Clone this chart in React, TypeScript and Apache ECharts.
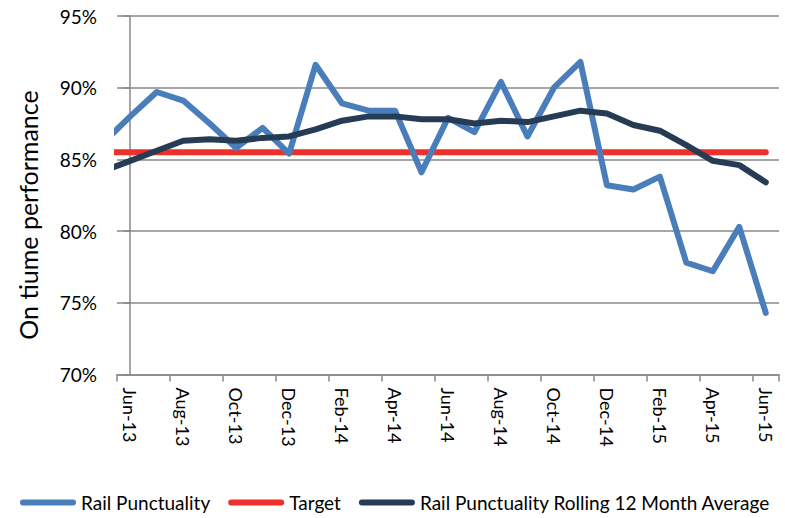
import React, { useEffect, useRef } from "react";
import * as echarts from "echarts";

// First entry (May-13) lies just outside the plot and is clipped at the left edge.
const months = [
  "May-13", "Jun-13", "Jul-13", "Aug-13", "Sep-13", "Oct-13", "Nov-13", "Dec-13",
  "Jan-14", "Feb-14", "Mar-14", "Apr-14", "May-14", "Jun-14", "Jul-14", "Aug-14",
  "Sep-14", "Oct-14", "Nov-14", "Dec-14", "Jan-15", "Feb-15", "Mar-15", "Apr-15",
  "May-15", "Jun-15",
];
const railPunctuality = [
  86.2, 88.0, 89.7, 89.1, 87.5, 85.8, 87.2, 85.4, 91.6, 88.9, 88.4, 88.4, 84.1,
  87.9, 86.9, 90.4, 86.6, 90.0, 91.8, 83.2, 82.9, 83.8, 77.8, 77.2, 80.3, 74.3,
];
const target = [
  85.5, 85.5, 85.5, 85.5, 85.5, 85.5, 85.5, 85.5, 85.5, 85.5, 85.5, 85.5, 85.5,
  85.5, 85.5, 85.5, 85.5, 85.5, 85.5, 85.5, 85.5, 85.5, 85.5, 85.5, 85.5, 85.5,
];
const rollingAverage = [
  84.2, 84.9, 85.6, 86.3, 86.4, 86.3, 86.5, 86.6, 87.1, 87.7, 88.0, 88.0, 87.8,
  87.8, 87.5, 87.7, 87.6, 88.0, 88.4, 88.2, 87.4, 87.0, 86.0, 84.9, 84.6, 83.4,
];
const yTicks = [70, 75, 80, 85, 90, 95];

const FONT = "Lato";
const GRID_COLOR = "#888888";
const PILL = "path://M3 0H53A3 3 0 0 1 53 6H3A3 3 0 0 1 3 0Z";

const toPoints = (vals: number[]) => vals.map((v, i) => [i - 1, v]);

export default function App() {
  const ref = useRef<HTMLDivElement>(null);
  useEffect(() => {
    if (!ref.current) return;
    const chart = echarts.init(ref.current, null, { renderer: "svg" });
    const categories = months.slice(1);
    const lineSeries = (name: string, vals: number[], color: string, z: number) => ({
      name,
      type: "line",
      xAxisIndex: 1,
      yAxisIndex: 0,
      data: toPoints(vals),
      symbol: "none",
      showSymbol: false,
      clip: true,
      z,
      lineStyle: { color, width: 6, cap: "round", join: "round" },
      itemStyle: { color },
    });
    chart.setOption({
      animation: false,
      grid: { left: 117, right: 6, top: 16, bottom: 143.5, containLabel: false },
      graphic: [
        {
          type: "text",
          x: 28,
          y: 215,
          rotation: Math.PI / 2,
          style: {
            text: "On tiume performance",
            font: `25px ${FONT}`,
            fill: "#000",
            textAlign: "center",
            textVerticalAlign: "middle",
          },
        },
      ],
      legend: {
        left: 15,
        right: 0,
        top: 488,
        itemWidth: 56,
        itemHeight: 6,
        itemGap: 18,
        icon: PILL,
        textStyle: { fontFamily: FONT, fontSize: 19, color: "#000" },
        data: [
          { name: "Rail Punctuality", icon: PILL },
          { name: "Target", icon: PILL },
          { name: "Rail Punctuality Rolling 12 Month Average", icon: PILL },
        ],
      },
      xAxis: [
        {
          type: "category",
          data: categories,
          boundaryGap: true,
          axisLine: { show: true, lineStyle: { color: GRID_COLOR, width: 1.5 } },
          axisTick: { show: true, interval: 1, length: 7, lineStyle: { color: GRID_COLOR, width: 1.5 } },
          axisLabel: {
            interval: 1,
            rotate: -90,
            margin: 13,
            fontFamily: FONT,
            fontSize: 18,
            color: "#000",
          },
          splitLine: { show: false },
        },
        {
          type: "value",
          min: -0.5,
          max: 24.5,
          show: false,
          splitLine: { show: false },
        },
      ],
      yAxis: {
        type: "value",
        min: yTicks[0],
        max: yTicks[yTicks.length - 1],
        interval: 5,
        axisLine: { show: true, lineStyle: { color: GRID_COLOR, width: 1.5 } },
        axisTick: { show: true, length: 7, lineStyle: { color: GRID_COLOR, width: 1.5 } },
        axisLabel: {
          formatter: "{value}%",
          margin: 20,
          fontFamily: FONT,
          fontSize: 19,
          color: "#000",
        },
        splitLine: { show: true, lineStyle: { color: GRID_COLOR, width: 1.5 } },
      },
      series: [
        lineSeries("Rail Punctuality", railPunctuality, "#4a7ebb", 3),
        lineSeries("Target", target, "#ee302a", 2),
        lineSeries("Rail Punctuality Rolling 12 Month Average", rollingAverage, "#263c55", 4),
      ],
    });
    return () => chart.dispose();
  }, []);
  return (
    <div
      ref={ref}
      style={{ position: "fixed", left: 0, top: 0, width: 785, height: 518, background: "#fff" }}
    />
  );
}
